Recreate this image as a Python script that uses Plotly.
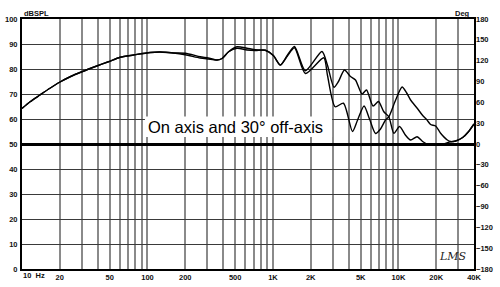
import plotly.graph_objects as go
import math

# ---- data ----
freq_a = [10, 11.6, 13.9, 16.7, 20.1, 24.2, 30, 39.4, 48.8, 60.5, 77.3, 105, 126, 161, 200, 263, 305,
          358, 393, 443, 517, 621, 724, 869, 1007, 1145, 1303, 1483, 1814, 2457, 2718, 3062, 3327,
          3714, 4147, 4546, 5123, 5566, 6272, 6937, 7646, 8381, 9190, 10205, 11396, 12495, 14074,
          15573, 17388, 21677, 26050, 28556, 32485, 36264, 40000]
spl_a = [64.2, 66.9, 69.6, 72.3, 74.8, 76.9, 78.9, 81.2, 82.9, 84.7, 85.6, 86.6, 86.8, 86.4, 86.3, 84.9, 84.4,
         83.6, 84.2, 86.9, 88.9, 88.3, 87.7, 87.5, 85.4, 81.6, 85.5, 89.0, 79.3, 87.0, 81.5, 72.7, 75.0,
         79.6, 77.0, 75.6, 70.0, 71.6, 65.2, 67.0, 62.9, 60.9, 54.3, 57.0, 53.5, 51.6, 52.9,
         51.0, 49.7, 49.8, 50.9, 51.2, 52.6, 55.0, 58.0]

freq_b = [10, 11.6, 13.9, 16.7, 20.1, 24.2, 30, 39.4, 48.8, 60.5, 77.3, 105, 126, 161, 200, 263, 305,
          358, 393, 443, 517, 621, 724, 869, 1007, 1145, 1303, 1483, 1814, 2539, 2718, 3128, 3646,
          4302, 4717, 5316, 5882, 6566, 7196, 7888, 8381, 9482, 10684, 11606, 12495, 14110, 15486,
          16762, 18043, 19781, 21677, 24518, 26050, 28556, 32485, 36264, 40000]
spl_b = [64.2, 66.9, 69.6, 72.3, 74.8, 76.9, 78.9, 81.2, 82.9, 84.7, 85.6, 86.6, 86.8, 86.4, 85.7, 84.4, 84.0,
         83.6, 84.2, 86.9, 88.3, 87.6, 87.4, 87.5, 85.4, 81.6, 85.2, 88.5, 78.2, 84.5, 77.5, 64.9, 66.3,
         55.0, 59.5, 65.2, 60.0, 54.2, 56.0, 59.6, 60.9, 67.5, 72.8, 70.5, 67.6, 64.3, 61.6,
         59.8, 57.8, 57.2, 54.3, 51.6, 51.0, 51.2, 52.6, 55.0, 58.0]

grid_freqs = [10, 20, 30, 40, 50, 60, 70, 80, 90,
              100, 200, 300, 400, 500, 600, 700, 800, 900,
              1000, 2000, 3000, 4000, 5000, 6000, 7000, 8000, 9000,
              10000, 20000, 30000, 40000]
freq_labels = {20: "20", 50: "50", 100: "100", 200: "200", 500: "500", 1000: "1K",
               2000: "2K", 5000: "5K", 10000: "10K", 20000: "20K", 40000: "40K"}
db_ticks = list(range(0, 101, 10))
deg_ticks = list(range(-180, 181, 30))
caption = "On axis and 30° off-axis"

tickfont = dict(family="Liberation Sans, Arial", size=7.5, color="#111", weight="bold")

fig = go.Figure()
for f, s in ((freq_a, spl_a), (freq_b, spl_b)):
    fig.add_trace(go.Scatter(x=f, y=s, mode="lines",
                             line=dict(color="#000", width=1.4, shape="spline", smoothing=0.7),
                             showlegend=False, hoverinfo="skip"))
# empty trace bound to the phase axis so it is drawn
fig.add_trace(go.Scatter(x=[], y=[], yaxis="y2", showlegend=False, hoverinfo="skip"))

fig.update_layout(
    width=500, height=287,
    margin=dict(l=22, r=26, t=19, b=18),
    paper_bgcolor="white", plot_bgcolor="white",
    xaxis=dict(type="log", range=[1, math.log10(40000)], automargin=False,
               tickvals=grid_freqs,
               ticktext=[freq_labels.get(v, "") for v in grid_freqs],
               showgrid=True, gridcolor="#8a8a8a", gridwidth=1.6,
               showline=True, linecolor="#000", linewidth=2, mirror=True,
               ticks="", tickfont=tickfont, zeroline=False, ticklabelstandoff=0),
    yaxis=dict(range=[0, 100], tickvals=db_ticks, automargin=False,
               showgrid=True, gridcolor="#3a3a3a", gridwidth=1.3,
               showline=True, linecolor="#000", linewidth=2, mirror=True,
               ticks="", tickfont=tickfont, zeroline=False, ticklabelstandoff=1),
    yaxis2=dict(range=[-180, 180], tickvals=deg_ticks, overlaying="y", side="right", automargin=False,
                showgrid=False, zeroline=True, zerolinecolor="#000", zerolinewidth=2.6,
                ticks="", tickfont=tickfont, showline=False, ticklabelstandoff=1),
    shapes=[dict(type="rect", xref="paper", yref="y", x0=0.272, x1=0.686, y0=52.8, y1=61.0,
                 fillcolor="white", line=dict(width=0), layer="above")],
    annotations=[
        dict(text=caption, xref="x", yref="y", x=math.log10(506), y=57.0,
             showarrow=False, font=dict(family="Liberation Sans, Arial", size=16.5, color="#000")),
        dict(text="dBSPL", xref="paper", yref="paper", x=0, y=1.022, xanchor="left", yanchor="middle",
             showarrow=False, font=tickfont),
        dict(text="Deg", xref="paper", yref="paper", x=0.995, y=1.022, xanchor="right", yanchor="middle",
             showarrow=False, font=tickfont),
        dict(text="10  Hz", xref="paper", yref="paper", x=-0.003, y=-0.026, xanchor="left", yanchor="middle",
             showarrow=False, font=tickfont),
        dict(text="<i>LMS</i>", xref="paper", yref="paper", x=0.99, y=0.05, xanchor="right", yanchor="middle",
             showarrow=False, font=dict(family="DejaVu Serif", size=11, color="#222")),
    ],
)

fig.write_html("out.html")
